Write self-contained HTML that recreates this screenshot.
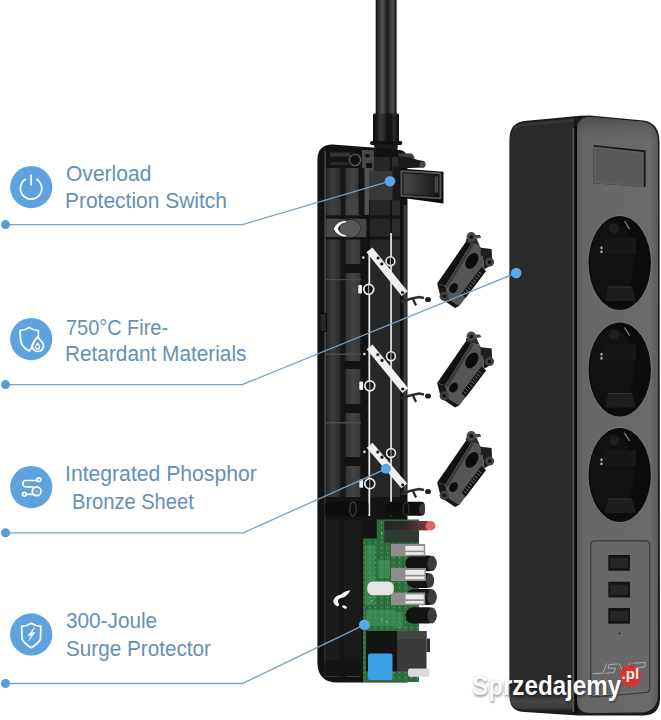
<!DOCTYPE html>
<html>
<head>
<meta charset="utf-8">
<style>
html,body{margin:0;padding:0;}
body{width:661px;height:720px;overflow:hidden;background:#fff;position:relative;font-family:"Liberation Sans",sans-serif;}
.abs{position:absolute;}
.ln{position:absolute;color:#6590b6;font-size:22px;line-height:22px;white-space:nowrap;transform-origin:0 0;}
.ic{position:absolute;left:10px;width:43px;height:43px;border-radius:50%;background:#5b9bd5;}
svg{position:absolute;left:0;top:0;}
</style>
</head>
<body>

<!-- callout lines -->
<svg width="661" height="720" viewBox="0 0 661 720" style="z-index:5">
  <g stroke="#76a0c6" stroke-width="1.3" fill="none">
    <polyline points="5,224.6 242.4,224.6 390,181.2"/>
    <polyline points="5,384.6 242.4,384.6 516.2,273"/>
    <polyline points="5,532.8 243.3,532.8 385.9,468.8"/>
    <polyline points="5,683.5 242.4,683.5 364.3,624.8"/>
  </g>
  <g fill="#5b9bd5">
    <circle cx="5.5" cy="224.6" r="4.5"/>
    <circle cx="5.5" cy="384.6" r="4.5"/>
    <circle cx="5.5" cy="532.8" r="4.5"/>
    <circle cx="5.5" cy="683.5" r="4.5"/>
  </g>
  <g fill="#5ea6ea">
    <circle cx="390" cy="181.2" r="5.3"/>
    <circle cx="516.2" cy="273" r="5.3"/>
    <circle cx="385.9" cy="468.8" r="5"/>
    <circle cx="364.3" cy="624.8" r="5.3"/>
  </g>
</svg>

<!-- icons -->
<svg width="661" height="720" viewBox="0 0 661 720" style="z-index:6">
  <g fill="#5ea2e0">
    <circle cx="31.25" cy="187.1" r="21.1"/>
    <circle cx="31.25" cy="339.1" r="21.1"/>
    <circle cx="31.25" cy="487.1" r="21.1"/>
    <circle cx="31.25" cy="634.4" r="21.1"/>
  </g>
  <g stroke="#fff" fill="none" stroke-width="1.7" stroke-linecap="round" stroke-linejoin="round">
    <!-- power -->
    <g transform="translate(31.1,188.4)">
      <path d="M-5.6,-9.1 A10.7,10.7 0 1 0 5.6,-9.1"/>
      <path d="M0,-13.2 V-3.6"/>
    </g>
    <!-- shield + flame -->
    <g transform="translate(31.25,339.1)">
      <path d="M3.2,2.2 C1.9,6 0.2,9.5 -2.15,12 C-7,9.5 -10.6,5 -10.8,-1 L-11.3,-8.6 C-7.2,-8.8 -4.6,-9.9 -2.15,-11.8 C0.3,-9.9 3,-8.8 7,-8.6 L7.2,-3.2"/>
      <path d="M6.3,-2.3 C8.2,0.6 12.3,2.8 12.3,6.7 A5.7,5.7 0 0 1 0.9,6.7 C0.9,3.8 3.6,1.3 6.3,-2.3 Z"/>
      <path d="M6.3,4 C7.6,5.6 8.3,6.6 8.3,8 A2,2 0 0 1 4.3,8 C4.3,6.8 5.2,5.6 6.3,4 Z" stroke-width="1.2"/>
    </g>
    <!-- connection -->
    <g transform="translate(31.25,487.1)">
      <circle cx="7.6" cy="-7.4" r="1.9"/>
      <path d="M5.7,-6.6 H-5.3 A3.1,3.1 0 0 0 -5.3,-0.3 H1.2"/>
      <circle cx="5.4" cy="4.2" r="4.4"/>
      <circle cx="-6.9" cy="7.1" r="1.9"/>
      <path d="M-5,7.3 H1.1"/>
    </g>
    <!-- shield bolt -->
    <g transform="translate(31.25,634.4)">
      <path d="M0,-11.2 C-3,-9.2 -6,-8.2 -9.6,-8 L-9.2,4.8 C-7,8.5 -3.5,11.3 0,13.4 C3.5,11.3 7,8.5 9.2,4.8 L9.6,-8 C6,-8.2 3,-9.2 0,-11.2 Z"/>
    </g>
  </g>
  <g fill="#fff">
    <circle cx="36.65" cy="491.3" r="1.3" fill="#9bb6d6"/>
    <path transform="translate(31.25,634.4)" d="M3.2,-6.8 L-3.2,1.2 L0.2,1.0 L-2.6,6.4 L3.6,-1.8 L0.4,-1.6 Z" stroke="#fff" stroke-width="0.6" stroke-linejoin="round"/>
  </g>
</svg>

<!-- labels -->
<div class="ln" id="l0" style="left:65.84px;top:162.6px;transform:scaleX(0.9563)">Overload</div>
<div class="ln" id="l1" style="left:64.89px;top:190.4px;transform:scaleX(0.9527)">Protection Switch</div>
<div class="ln" id="l2" style="left:65.79px;top:316.8px;transform:scaleX(0.9054)">750°C Fire-</div>
<div class="ln" id="l3" style="left:64.81px;top:343.2px;transform:scaleX(0.9450)">Retardant Materials</div>
<div class="ln" id="l4" style="left:64.78px;top:463.0px;transform:scaleX(0.9619)">Integrated Phosphor</div>
<div class="ln" id="l5" style="left:72.07px;top:490.5px;transform:scaleX(0.9130)">Bronze Sheet</div>
<div class="ln" id="l6" style="left:65.76px;top:610.3px;transform:scaleX(0.9432)">300-Joule</div>
<div class="ln" id="l7" style="left:65.76px;top:637.5px;transform:scaleX(0.9412)">Surge Protector</div>

<!-- product -->
<svg width="661" height="720" viewBox="0 0 661 720" style="z-index:1">
  <defs>
    <linearGradient id="cab" x1="0" x2="1" y1="0" y2="0">
      <stop offset="0" stop-color="#0e0e0e"/>
      <stop offset="0.1" stop-color="#262626"/>
      <stop offset="0.2" stop-color="#3a3a3a"/>
      <stop offset="0.3" stop-color="#505050"/>
      <stop offset="0.4" stop-color="#464646"/>
      <stop offset="0.5" stop-color="#222"/>
      <stop offset="0.6" stop-color="#1e1e1e"/>
      <stop offset="0.7" stop-color="#383838"/>
      <stop offset="0.8" stop-color="#4e4e4e"/>
      <stop offset="0.88" stop-color="#3a3a3a"/>
      <stop offset="1" stop-color="#0e0e0e"/>
    </linearGradient>
    <linearGradient id="slv" x1="0" x2="1" y1="0" y2="0">
      <stop offset="0" stop-color="#0c0c0c"/>
      <stop offset="0.15" stop-color="#1e1e1e"/>
      <stop offset="0.3" stop-color="#383838"/>
      <stop offset="0.42" stop-color="#2a2a2a"/>
      <stop offset="0.55" stop-color="#121212"/>
      <stop offset="0.7" stop-color="#161616"/>
      <stop offset="0.82" stop-color="#2a2a2a"/>
      <stop offset="1" stop-color="#0c0c0c"/>
    </linearGradient>
    <linearGradient id="colA" x1="0" x2="1" y1="0" y2="0">
      <stop offset="0" stop-color="#262626"/>
      <stop offset="0.45" stop-color="#3c3c3c"/>
      <stop offset="1" stop-color="#262626"/>
    </linearGradient>
    <linearGradient id="colB" x1="0" x2="1" y1="0" y2="0">
      <stop offset="0" stop-color="#333"/>
      <stop offset="0.5" stop-color="#444"/>
      <stop offset="1" stop-color="#363636"/>
    </linearGradient>
    <pattern id="pcbpat" x="0" y="0" width="6" height="5" patternUnits="userSpaceOnUse">
      <rect x="0" y="0" width="1" height="5" fill="#1f5a2e" opacity="0.55"/>
      <rect x="3" y="2" width="1.2" height="1.2" fill="#7fc090" opacity="0.6"/>
    </pattern>
    <linearGradient id="redbar" x1="0" x2="1" y1="0" y2="0">
      <stop offset="0" stop-color="#262626"/>
      <stop offset="0.5" stop-color="#2e2a2a"/>
      <stop offset="1" stop-color="#7a3a3a"/>
    </linearGradient>
    <linearGradient id="sbot" x1="0" x2="0" y1="0" y2="1">
      <stop offset="0" stop-color="#2a2a2a"/>
      <stop offset="0.55" stop-color="#464646"/>
      <stop offset="0.85" stop-color="#3a3a3a"/>
      <stop offset="1" stop-color="#1c1c1c"/>
    </linearGradient>
    <linearGradient id="ftop" x1="0" x2="0" y1="0" y2="1">
      <stop offset="0" stop-color="#484848" stop-opacity="0.8"/>
      <stop offset="1" stop-color="#666" stop-opacity="0"/>
    </linearGradient>
    <linearGradient id="front" x1="0" x2="1" y1="0" y2="0">
      <stop offset="0" stop-color="#5c5c5c"/>
      <stop offset="0.08" stop-color="#666"/>
      <stop offset="0.9" stop-color="#6a6a6a"/>
      <stop offset="1" stop-color="#5a5a5a"/>
    </linearGradient>
    <linearGradient id="sw" x1="0" x2="1" y1="0" y2="0">
      <stop offset="0" stop-color="#474747"/>
      <stop offset="1" stop-color="#1e1e1e"/>
    </linearGradient>
    <g id="insert">
      <!-- local coords = insert 2 full coords -->
      <path d="M437.1,382.9 L466.6,340.3 L471.5,343 L445.3,385.5 Z" fill="#111"/>
      <path d="M445.3,385.5 L471.5,343 L479.6,345 L482,349.8 L484.3,368.7 L485.5,371 L459.5,405.3 L449,399 Z" fill="#565656"/>
      <path d="M445.3,385.5 L471.5,343 L474,344 L447.5,387.5 Z" fill="#3a3a3a"/>
      <path d="M437.1,382.9 L445.3,385.5 L449,399 L459.5,405.3 L455,407.5 L441,398 Z" fill="#161616"/>
      <path d="M461.5,393 L481.5,366.5 L486,370.5 L465.5,397.5 Z" fill="#141414"/>
      <g stroke="#9a9a9a" stroke-width="0.7">
        <path d="M463.5,391.5 l3,2.2"/><path d="M465.4,389 l3,2.2"/><path d="M467.3,386.5 l3,2.2"/>
        <path d="M469.2,384 l3,2.2"/><path d="M471.1,381.5 l3,2.2"/><path d="M473,379 l3,2.2"/>
        <path d="M474.9,376.5 l3,2.2"/><path d="M476.8,374 l3,2.2"/><path d="M478.7,371.5 l3,2.2"/>
      </g>
      <!-- ears -->
      <path d="M465.5,340 L468,336 L476,337 L479.6,345 L471.5,343 Z" fill="#2a2a2a"/>
      <path d="M479,347 L491.4,348.6 L492.5,364 L484.3,368.7 L482,349.8 Z" fill="#1e1e1e"/>
      <circle cx="471.3" cy="336.4" r="4.8" fill="#4a4a4a"/>
      <circle cx="471.3" cy="336.4" r="2" fill="#111"/>
      <path d="M475.5,334.5 l4.5,0 l1.2,2.6 l-4.5,1.2 Z" fill="#444"/>
      <rect x="480.8" y="348.6" width="10.6" height="7.1" fill="#1e1e1e"/>
      <circle cx="489.6" cy="361.6" r="4.5" fill="#444"/>
      <circle cx="489.6" cy="361.6" r="1.8" fill="#111"/>
      <circle cx="444.2" cy="395.8" r="4.6" fill="#3e3e3e"/>
      <circle cx="444.2" cy="395.8" r="1.8" fill="#111"/>
      <!-- holes -->
      <ellipse cx="471.9" cy="360.4" rx="5.6" ry="8.6" transform="rotate(32 471.9 360.4)" fill="#0c0c0c"/>
      <ellipse cx="453.6" cy="387.6" rx="4" ry="5.3" transform="rotate(32 453.6 387.6)" fill="#0c0c0c"/>
    </g>
  </defs>

  <!-- cable -->
  <rect x="375.7" y="0" width="20.9" height="115" fill="url(#cab)"/>
  <rect x="373" y="113.5" width="26" height="28.5" rx="1.5" fill="url(#slv)"/>
  <rect x="370" y="141" width="32.4" height="4" rx="2" fill="#101010"/>
  <path d="M374,144.5 H398 L396,160 H376 Z" fill="#1a1a1a"/>

  <!-- housing -->
  <path d="M332.5,144.5 L372,147.5 L400,150 Q407.5,151 407.5,160 L407.5,682.5 L337.5,682.5 Q317.4,682.5 317.4,662 L317.4,160 Q317.4,144.5 332.5,144.5 Z" fill="#121212"/>
  <rect x="324.3" y="151" width="2" height="526" fill="#444"/>
  <rect x="326.3" y="151" width="14.4" height="526" fill="url(#colA)"/>
  <rect x="340.7" y="151" width="5" height="526" fill="#171717"/>
  <rect x="345.7" y="151" width="15" height="526" fill="url(#colB)"/>
  <rect x="360.5" y="151" width="8" height="526" fill="#141414"/>
  <rect x="370" y="157" width="20" height="520" fill="#262626"/>
  <rect x="392" y="157" width="8" height="520" fill="#2c2c2c"/>
  <!-- top region details -->
  <rect x="326" y="151" width="36" height="17" fill="#141414"/>
  <rect x="330" y="152.5" width="20" height="4" fill="#363636"/>
  <rect x="330" y="162" width="18" height="3" fill="#2a2a2a"/>
  <circle cx="355" cy="160" r="5.6" fill="#111" stroke="#5a5a5a" stroke-width="1.4"/>
  <rect x="362" y="150" width="12" height="21" fill="#474747"/>
  <rect x="365.5" y="154" width="4" height="3.5" fill="#111"/>
  <rect x="366" y="163" width="6" height="5" fill="#111"/>
  <path d="M398.5,153.4 L412,153.4 L415,158 L398.5,165 Z" fill="#3e3e3e"/>
  <!-- upper section tweaks -->
  <rect x="345.7" y="168" width="13" height="47" fill="url(#colB)"/>
  <rect x="358.5" y="168" width="6" height="47" fill="#141414"/>
  <rect x="364.5" y="168" width="4.5" height="47" fill="#505050"/>
  <rect x="326.3" y="199" width="14.4" height="16" fill="#404040" opacity="0.6"/>
  <rect x="345.7" y="199" width="13" height="16" fill="#484848" opacity="0.6"/>
  <rect x="320" y="313.5" width="6.5" height="18" fill="#262626" stroke="#0c0c0c" stroke-width="1"/>
  <rect x="326" y="279" width="35" height="1.2" fill="#4c4c4c"/>
  <!-- lower dark part -->
  <path d="M324.3,497 H401 V676 H324.3 Z" fill="#151515"/>
  <rect x="324.3" y="497" width="1.6" height="165" fill="#2e2e2e"/>
  <rect x="327" y="520" width="12" height="140" fill="#1c1c1c"/>
  <rect x="344" y="520" width="17" height="140" fill="#1a1a1a"/>
  <!-- horizontal ribs / blocks -->
  <g fill="#131313">
    <rect x="326" y="215.5" width="75" height="3"/>
    <rect x="326" y="236.5" width="75" height="3"/>
    <rect x="344" y="264" width="18" height="9"/>
    <rect x="344" y="361" width="18" height="8"/>
    <rect x="344" y="404" width="18" height="9"/>
    <rect x="344" y="457" width="18" height="9"/>
  </g>
  <g fill="#4c4c4c">
    <rect x="326" y="353.5" width="35" height="1.5"/>
    <rect x="326" y="422" width="35" height="1.5"/>
  </g>
  <!-- white vertical strips -->
  <g fill="#e8e8e8">
    <rect x="368.4" y="253" width="1.8" height="263"/>
    <rect x="390.2" y="233" width="1.7" height="283"/>
  </g>
  <rect x="403.5" y="205" width="3.2" height="290" fill="#3c3c3c"/>
  <!-- diagonal bronze strips -->
  <path d="M369.4,249.8 L404.6,293.6" stroke="#f0f0f0" stroke-width="7.6"/>
  <g fill="#161616"><circle cx="378.1" cy="258" r="1.6"/><circle cx="381.8" cy="263.9" r="1.6"/><circle cx="402.5" cy="292.5" r="1.6"/></g>
  <ellipse cx="428" cy="299.5" rx="3" ry="2.6" fill="#222"/>
  <path transform="translate(0,0)" d="M401,302 L410,299 L419,297 L424,298 M413,299 L416,305.5" stroke="#2e2e2e" stroke-width="2.4" fill="none"/>
  <circle cx="390.4" cy="261.2" r="4.4" fill="#111" stroke="#ececec" stroke-width="1.6"/>
  <path d="M390.4,257.2 V265.2" stroke="#bbb" stroke-width="1"/>
  <circle cx="368.7" cy="289.3" r="5" fill="#111" stroke="#ececec" stroke-width="1.7"/>
  <path d="M368.7,285.0 V293.6" stroke="#bbb" stroke-width="1"/>
  <rect x="358.2" y="285.0" width="3.8" height="8.4" rx="1" fill="#eee"/>
  <circle cx="363.3" cy="257.5" r="1.3" fill="#ddd"/>
  <path d="M369.6,346.9 L405.3,390.6" stroke="#f0f0f0" stroke-width="7.6"/>
  <g fill="#161616"><circle cx="377.8" cy="354.6" r="1.6"/><circle cx="382" cy="360.4" r="1.6"/><circle cx="402.7" cy="389" r="1.6"/></g>
  <ellipse cx="428" cy="396" rx="3" ry="2.6" fill="#222"/>
  <path transform="translate(0,96.5)" d="M401,302 L410,299 L419,297 L424,298 M413,299 L416,305.5" stroke="#2e2e2e" stroke-width="2.4" fill="none"/>
  <circle cx="391" cy="356.2" r="4.4" fill="#111" stroke="#ececec" stroke-width="1.6"/>
  <path d="M391,352.2 V360.2" stroke="#bbb" stroke-width="1"/>
  <circle cx="369.8" cy="385.8" r="5" fill="#111" stroke="#ececec" stroke-width="1.7"/>
  <path d="M369.8,381.5 V390.1" stroke="#bbb" stroke-width="1"/>
  <rect x="359.3" y="381.5" width="3.8" height="8.4" rx="1" fill="#eee"/>
  <circle cx="364.40000000000003" cy="354.0" r="1.3" fill="#ddd"/>
  <path d="M369.6,445.3 L404.3,485.9" stroke="#f0f0f0" stroke-width="7.6"/>
  <g fill="#161616"><circle cx="377.8" cy="452" r="1.6"/><circle cx="382" cy="457.2" r="1.6"/><circle cx="402.7" cy="484.8" r="1.6"/></g>
  <ellipse cx="428" cy="491.5" rx="3" ry="2.6" fill="#222"/>
  <path transform="translate(0,192)" d="M401,302 L410,299 L419,297 L424,298 M413,299 L416,305.5" stroke="#2e2e2e" stroke-width="2.4" fill="none"/>
  <circle cx="391" cy="453" r="4.4" fill="#111" stroke="#ececec" stroke-width="1.6"/>
  <path d="M391,449 V457" stroke="#bbb" stroke-width="1"/>
  <circle cx="369.8" cy="483.7" r="5" fill="#111" stroke="#ececec" stroke-width="1.7"/>
  <path d="M369.8,479.4 V488.0" stroke="#bbb" stroke-width="1"/>
  <rect x="359.3" y="479.4" width="3.8" height="8.4" rx="1" fill="#eee"/>
  <circle cx="364.40000000000003" cy="451.9" r="1.3" fill="#ddd"/>
  <!-- top button with white crescent -->
  <rect x="326.3" y="219" width="40" height="18" fill="#474747"/>
  <ellipse cx="349.5" cy="228.4" rx="11" ry="9.6" fill="#161616"/>
  <ellipse cx="350" cy="228.4" rx="10.3" ry="9" fill="#575757"/>
  <path d="M347.5,220.3 Q337,220 333.2,228.7 Q337,237.5 347.5,237.2 L345.8,234.6 Q339.8,233.8 338.4,228.7 Q339.8,223.5 345.8,222.9 Z" fill="#f4f4f4" stroke="#111" stroke-width="0.7"/>
  <!-- cylinders near pcb -->
  <rect x="325" y="501.7" width="43.4" height="14.5" rx="3" fill="#0e0e0e"/>
  <ellipse cx="353" cy="509" rx="3.2" ry="7" fill="none" stroke="#3a3a3a" stroke-width="1.4"/>
  <rect x="384.8" y="501.7" width="40" height="14" rx="4" fill="#0e0e0e"/>
  <ellipse cx="406" cy="509" rx="3" ry="6.5" fill="none" stroke="#333" stroke-width="1.3"/>
  <ellipse cx="422" cy="509" rx="2.8" ry="5.5" fill="#3a3a3a"/>
  <!-- white hook -->
  <path d="M350.5,590.3 Q345,590.8 341,594.5 Q335,595.5 333.3,600.5 Q333.3,605.3 337.8,606.4 L339.3,604.6 Q337.2,602.3 338.2,599.6 Q340.5,597.6 344.2,597.2 Q348.5,594.8 350.5,590.3 Z" fill="#f4f4f4"/>
  <ellipse cx="344.6" cy="607" rx="2.6" ry="1.3" transform="rotate(25 344.6 607)" fill="#f4f4f4"/>

  <!-- PCB -->
  <path d="M376.8,519.5 H419 V632 H419 V682 H363.2 V538.6 H376.8 Z" fill="#2f7040"/>
  <path d="M376.8,519.5 H419 V632 H419 V682 H363.2 V538.6 H376.8 Z" fill="url(#pcbpat)"/>
  <g fill="#4a9a5e" opacity="0.55">
    <rect x="365" y="545" width="10" height="60"/>
    <rect x="378" y="560" width="12" height="18"/>
    <rect x="366" y="610" width="30" height="16"/>
    <rect x="395" y="612" width="8" height="16"/>
  </g>
  <g fill="#9fd0a8">
    <rect x="381" y="533" width="1.2" height="1.2"/><rect x="386" y="533" width="1.2" height="1.2"/>
    <rect x="381" y="619" width="1.2" height="1.2"/><rect x="386" y="621" width="1.2" height="1.2"/>
    <rect x="371" y="600" width="1.2" height="1.2"/><rect x="366" y="640" width="1" height="1"/>
  </g>
  <!-- red tip component -->
  <rect x="384.3" y="530.4" width="34.7" height="12.3" fill="#2e3a31"/>
  <rect x="384.3" y="521" width="44" height="9.4" fill="url(#redbar)"/>
  <rect x="425.5" y="521" width="10" height="9.4" rx="4.7" fill="#e06464"/>
  <!-- capacitors -->
  <g fill="#141414">
    <rect x="405.4" y="555.6" width="31.3" height="15.7" rx="7.8"/>
    <rect x="406.8" y="573" width="27.2" height="15" rx="7.5"/>
    <rect x="406" y="589" width="30.7" height="16" rx="8"/>
    <rect x="405.4" y="607.3" width="31.3" height="16.3" rx="8"/>
  </g>
  <g fill="#3c3c3c">
    <ellipse cx="432" cy="563.4" rx="4.5" ry="7.6"/>
    <ellipse cx="430" cy="580.5" rx="4" ry="7.2"/>
    <ellipse cx="432" cy="597" rx="4.5" ry="7.8"/>
    <ellipse cx="432" cy="615.4" rx="4.5" ry="8"/>
  </g>
  <!-- usb connectors -->
  <g fill="#8e8e8e">
    <rect x="391" y="544" width="34.2" height="12.3"/>
    <rect x="391" y="568" width="35" height="13"/>
    <rect x="391" y="592.5" width="34.2" height="12.7"/>
  </g>
  <g fill="#ececec">
    <rect x="405.4" y="546" width="18.4" height="4.6"/><rect x="405.4" y="552.2" width="18.4" height="2.6"/>
    <rect x="405.4" y="570" width="19" height="4.8"/><rect x="405.4" y="576.5" width="19" height="2.8"/>
    <rect x="405.4" y="594.5" width="18.4" height="4.8"/><rect x="405.4" y="601" width="18.4" height="2.6"/>
  </g>
  <!-- white cylinder -->
  <rect x="367.3" y="581.5" width="26.5" height="13.7" rx="5.5" fill="#e4e4e4"/>
  <!-- relay -->
  <rect x="366" y="631" width="31.5" height="40.3" fill="#141414"/>
  <rect x="397.2" y="631" width="29.3" height="40.3" fill="#3a3a3a"/>
  <rect x="397.2" y="631" width="29.3" height="8" fill="#444"/>
  <rect x="426.5" y="638.6" width="3.5" height="13.4" fill="#2e2e2e"/>
  <!-- blue capacitor -->
  <rect x="368" y="653.6" width="24.5" height="26.4" rx="2" fill="#3a9fe4"/>
  <rect x="408" y="668.6" width="21.3" height="8.1" rx="2" fill="#dadada"/>

  <!-- switch mount -->
  <path d="M398,156 L410,157.5 L418,160 L424,161 Q427,164 424,167.5 L410,168 L398,168 Z" fill="#1a1a1a"/>
  <ellipse cx="422.5" cy="164.5" rx="3" ry="3" fill="#4a4a4a"/>
  <rect x="369" y="171" width="32" height="29" fill="#383838"/>
  <rect x="392.5" y="166.5" width="8.5" height="34" fill="#1a1a1a"/>
  <!-- switch -->
  <path d="M399.5,168.6 L443.5,171.8 L443.5,203.5 L399.5,197.5 Z" fill="#0e0e0e"/>
  <path d="M400.5,170.2 L441.3,172.6 L441.3,199.3 L400.5,196.5 Z" fill="#575757"/>
  <path d="M402.3,172 L439.6,174.3 L439.6,197.5 L402.3,195 Z" fill="#151515"/>
  <path d="M403.6,173.2 L434,175.3 L434,195.5 L403.6,194.3 Z" fill="url(#sw)"/>
  <rect x="434.6" y="176.3" width="3.6" height="16.3" fill="#474747"/>

  <!-- inserts -->
  <use href="#insert" transform="translate(0,-99.5)"/>
  <use href="#insert"/>
  <use href="#insert" transform="translate(0,99.5)"/>

  <!-- right strip -->
  <path d="M527,120.8 L580.4,115.8 L590,115.6 L643.5,120.6 Q659.5,123 659.5,142 L660,698 Q660,715 644,715.5 L578,715.5 L525,712 Q509.5,712 509.5,696 L509.5,139 Q509.5,121.5 527,120.8 Z" fill="#1a1a1a"/>
  <path d="M509.8,140 Q509.8,124.5 527,123.5 L574,119.5 L574,711 L525,710.5 Q510.5,710.5 509.8,696 Z" fill="#2a2a2a"/>
  <path d="M513,128 Q518,123.2 527,122.6 L574,118.6 L574,121.5 L527,125.5 Q519,126 513,130 Z" fill="#3a3a3a" opacity="0.8"/>
  <path d="M509.7,690 L574,690 L574,711 L525,710.5 Q510.5,710.5 509.7,696 Z" fill="url(#sbot)"/>
  <rect x="572.5" y="128" width="2" height="584" fill="#555"/>
  <rect x="574.5" y="126" width="2.5" height="588" fill="#080808"/>
  <path d="M590,117 L643,121.8 Q658,124.5 658,143 L658,694 Q658,711 642,712.5 L590,713 Q577,713 577,700 L577,130 Q577,117.5 590,117 Z" fill="url(#front)"/>
  <path d="M590,117 L643,121.8 Q658,124.5 658,143 L658,146 L577,146 L577,130 Q577,117.5 590,117 Z" fill="url(#ftop)"/>
  <!-- indicator window -->
  <path d="M593.6,145 L645.6,150.5 L645.6,187 L593.6,183.3 Z" fill="#151515"/>
  <path d="M593.6,146.5 L643.8,152 L643.8,187 L593.6,183.3 Z" fill="#5e5e5e"/>
  <path d="M596,149 L642,154 L642,184.5 L596,181 Z" fill="#585858"/>
  <!-- sockets -->
  <g id="sock">
    <ellipse cx="619.7" cy="263" rx="32" ry="47.7" fill="#7a7a7a"/>
    <ellipse cx="619.7" cy="263" rx="31.2" ry="47" fill="#0b0b0b"/>
    <ellipse cx="612" cy="262" rx="22" ry="40" fill="#121212"/>
    <circle cx="614" cy="228.5" r="5" fill="#1f1f1f"/>
    <path d="M624.5,221 L629.5,229" stroke="#8a8a8a" stroke-width="1.2"/>
    <rect x="604" y="238" width="32" height="16" fill="#171717"/>
    <path d="M608,287 L632,287 L636,301 L605,301 Z" fill="#1e1e1e"/>
    <path d="M608,287 L632,287" stroke="#333" stroke-width="1"/>
    <rect x="600.5" y="246.5" width="2" height="2.5" fill="#bbb"/>
    <rect x="600.5" y="250.5" width="2" height="2.5" fill="#bbb"/>
  </g>
  <use href="#sock" transform="translate(0,106.5)"/>
  <use href="#sock" transform="translate(0,212)"/>
  <!-- usb panel -->
  <path d="M595,540.8 H645.5 Q649.7,540.8 649.7,545 V688.5 Q649.7,692.2 646,692.4 L595,697 Q590.8,697.2 590.8,693 V545 Q590.8,540.8 595,540.8 Z" fill="#686868" stroke="#3a3a3a" stroke-width="1.2"/>
  <path d="M596,695.5 L646,691" stroke="#777" stroke-width="0.8" fill="none"/>
  <g fill="#151515">
    <rect x="608.3" y="555" width="21.7" height="15.8"/>
    <rect x="608.3" y="581.7" width="21.7" height="15.8"/>
    <rect x="608.3" y="608" width="21.7" height="15.7"/>
  </g>
  <g fill="#262626">
    <rect x="610.3" y="558" width="17.7" height="10"/>
    <rect x="610.3" y="584.7" width="17.7" height="10"/>
    <rect x="610.3" y="611" width="17.7" height="10"/>
  </g>
  <circle cx="619.5" cy="633.3" r="0.9" fill="#222"/>
  <!-- logo -->
  <g fill="none" stroke="#b4b4b4" stroke-width="0.9" stroke-linecap="round">
    <path d="M593,673.8 L603,673 L606.5,663.8"/>
    <path d="M617.5,664 L609,664.6 L608,668 L615.5,668.3 L614,672.6 L605.5,673.3"/>
    <path d="M619.5,663.8 L623,672.3 L630,663.3"/>
    <path d="M633,663.2 L645.5,662.5 L644.5,667 L636,667.5"/>
  </g>

</svg>

<!-- watermark -->
<div id="wm" style="position:absolute;left:471.7px;top:670.8px;z-index:8;font-family:'Liberation Sans',sans-serif;font-weight:bold;font-size:28px;line-height:30px;color:#fbfbfb;text-shadow:0 0 1.5px rgba(0,0,0,0.22),1px 1.5px 2.5px rgba(0,0,0,0.35);white-space:nowrap;transform-origin:0 0;transform:scaleX(0.864);">Sprzedajemy</div>
<div style="position:absolute;left:619.8px;top:665.3px;width:21.4px;height:21.8px;border-radius:50%;background:#d8322f;z-index:9;"></div>
<div id="pl" style="position:absolute;left:621.6px;top:666.4px;z-index:10;font-family:'Liberation Sans',sans-serif;font-weight:bold;font-size:15px;line-height:16px;color:#f4f0f0;white-space:nowrap;">.pl</div>
</body>
</html>
